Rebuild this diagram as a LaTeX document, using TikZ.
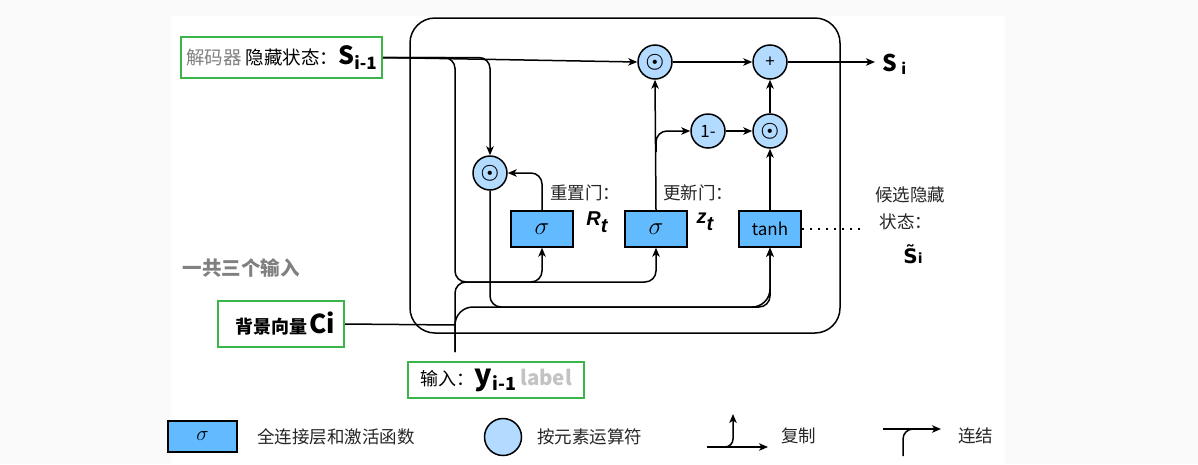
\documentclass[tikz,border=0pt]{standalone}
\usepackage{fontspec}
\usepackage{amsmath}
\setmainfont{Noto Sans CJK SC}
\newfontfamily\arialf{Liberation Sans}
\newfontfamily\dejavuf{DejaVu Sans}
\usetikzlibrary{arrows.meta}
\definecolor{gateblue}{HTML}{62BBFF}
\definecolor{opblue}{HTML}{B3DAFF}
\definecolor{boxgreen}{HTML}{3BB54A}
\definecolor{txtgray}{HTML}{808080}
\definecolor{lblgray}{HTML}{C3C3C3}
\definecolor{pagegray}{HTML}{FAFAFA}
\tikzset{
 gatebox/.style={draw, line width=1.5pt, fill=gateblue, minimum width=62pt, minimum height=36pt, inner sep=0pt, font=\fontsize{17}{20}\selectfont},
 opcircle/.style={draw, circle, line width=1.5pt, fill=opblue, minimum size=34pt, inner sep=0pt, font=\fontsize{17}{18}\selectfont},
 inbox/.style={draw=boxgreen, line width=2pt, fill=white, inner sep=0pt},
 flow/.style={line width=1.5pt, rounded corners=11pt},
 lbl/.style={font=\fontsize{17.5}{20}\selectfont, text=black!85, inner sep=0pt},
}
\newcommand{\odotsym}{{\fontsize{20}{20}\selectfont$\boldsymbol{\odot}$}}
\newcommand{\sigsym}{{\fontsize{25}{25}\selectfont$\sigma$}}

\begin{document}
\begin{tikzpicture}[x=1pt, y=-1pt, >={Stealth[length=9pt, width=7.5pt, inset=2.5pt]}]
\fill[pagegray] (0,0) rectangle (1198,464);
\fill[white] (171,16) rectangle (1005,464);
\useasboundingbox (0,0) rectangle (1198,464);

\draw[line width=1.5pt, rounded corners=25pt] (410,18) rectangle (840,333);

\node[opcircle] (odotA) at (655,62) {\odotsym};
\node[opcircle] (plus) at (770,62) {+};
\node[opcircle] (onem) at (708,131) {1-};
\node[opcircle] (odotB) at (770,131) {\odotsym};
\node[opcircle] (odotR) at (490,173) {\odotsym};
\node[gatebox] (gateR) at (542,229) {\sigsym};
\node[gatebox] (gateZ) at (656,229) {\sigsym};
\node[gatebox] (cand) at (770,229) {tanh};

\node[inbox, minimum width=201pt, minimum height=41pt] (sprev) at (281.5,57.5)
 {\fontsize{18.5}{20}\selectfont{\color{txtgray}解码器} 隐藏状态：{\fontsize{25}{25}\selectfont\bfseries S}{\fontsize{17}{17}\selectfont\bfseries\raisebox{-5pt}{i-1}}};
\node[inbox, minimum width=126pt, minimum height=46pt] (ctx) at (281,324)
 {\hspace*{8pt}\fontsize{18}{20}\selectfont\bfseries 背景向量\kern2pt{\fontsize{26}{26}\selectfont Ci}};
\node[inbox, minimum width=176pt, minimum height=36pt] (yin) at (496,380)
 {\fontsize{18}{20}\selectfont 输入：{\fontsize{29}{29}\selectfont\bfseries y}\kern1pt{\fontsize{18}{17}\selectfont\bfseries\raisebox{-5pt}{i-1}}\ {\color{lblgray}\fontsize{20.5}{20}\selectfont\bfseries label}};

\node[lbl] (rname) at (585,193) {重置门：};
\node[lbl] (zname) at (698,193) {更新门：};
\node[inner sep=0pt] (rsym) at (597,222) {\arialf\bfseries\itshape\fontsize{20}{20}\selectfont R\raisebox{-7pt}{t}};
\node[inner sep=0pt] (zsym) at (705,222) {\arialf\bfseries\itshape\fontsize{20}{20}\selectfont z\raisebox{-7pt}{t}};
\node[lbl] (cname) at (910,195) {候选隐藏};
\node[lbl] (cname2) at (906,222) {状态：};
\node[inner sep=0pt] (csym) at (913,254) {\dejavuf\bfseries\fontsize{20}{22}\selectfont\~{S}{\fontsize{14}{15}\selectfont i}};
\node[lbl, font=\fontsize{19.5}{20}\selectfont\bfseries, text=txtgray] (three) at (241,268) {一共三个输入};

\coordinate (sout) at (875,62);
\coordinate (yfoot) at (455,352);
\coordinate (zsplit) at (656,152);

\draw[flow,->] (sprev.east) -- (odotA.west);
\draw[flow,->] (odotA) -- (plus);
\draw[flow,->] (plus) -- (sout) node[right, inner sep=0pt, xshift=7pt, yshift=-2pt]
 {\bfseries\fontsize{23}{22}\selectfont S\,{\fontsize{15}{15}\selectfont\raisebox{-3pt}{i}}};
\draw[flow,->] (sprev.east) -| (455,282) -| (gateZ.south);
\draw[flow,->] (sprev.east) -| (odotR.north);
\draw[flow,->] (gateR.north) |- (odotR.east);
\draw[flow,->] (odotR.south) -- (490,307) -| (cand.south);
\draw[flow,->] (yfoot) -- (455,282) -| (gateR.south);
\draw[flow,->, rounded corners=18pt] (yfoot) -- (455,307) -| (cand.south);
\draw[flow] (ctx.east) -- (455,325);
\draw[flow,->] (gateZ.north) -- (odotA.south);
\draw[flow,->] (zsplit) |- (onem.west);
\draw[flow,->] (onem) -- (odotB);
\draw[flow,->] (cand) -- (odotB);
\draw[flow,->] (odotB) -- (plus);
\draw[line width=1.5pt, dash pattern=on 2pt off 6pt] (cand.east) -- (862,229);

\node[gatebox, minimum width=69pt, minimum height=31pt] (lgate) at (202.5,436.5) {{\fontsize{22}{22}\selectfont$\sigma$}};
\node[lbl, anchor=west] (lgatetxt) at (257,437) {全连接层和激活函数};
\node[opcircle, minimum size=37pt] (lop) at (503,437) {};
\node[lbl, anchor=west] (loptxt) at (537,437) {按元素运算符};
\coordinate (cpA) at (707,447);
\coordinate (cpB) at (768,447);
\coordinate (cpC) at (733,414);
\draw[flow,->] (cpA) -- (cpB);
\draw[flow,->, rounded corners=8pt] (720,447) -| (cpC);
\node[lbl, anchor=west] (lcopy) at (781,436) {复制};
\coordinate (ccA) at (883,429);
\coordinate (ccB) at (941,429);
\coordinate (ccC) at (903,456);
\draw[flow,->] (ccA) -- (ccB);
\draw[flow, rounded corners=10pt] (ccC) |- (920,429);
\node[lbl, anchor=west] (lcat) at (958,436) {连结};
\end{tikzpicture}
\end{document}
